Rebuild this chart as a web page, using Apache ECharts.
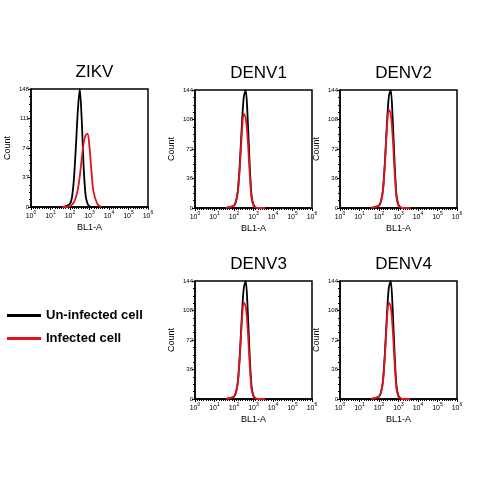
<!DOCTYPE html><html><head><meta charset="utf-8"><script src="https://cdn.jsdelivr.net/npm/echarts@6/dist/echarts.min.js"></script></head><body style="margin:0;background:#fff"><div id="c" style="width:480px;height:480px"></div><script>
const panels=['ZIKV','DENV1','DENV2','DENV3','DENV4'];
const xs=[1.6,1.8,2.0,2.1,2.2,2.3,2.4,2.5,2.6,2.7,2.8,2.9,3.0,3.1,3.2,3.4,3.6];
const uninfected=[
[0,1,4,12,35,75,120,148,110,50,15,4,1,0,0,0,0],
[0,1,3,8,22,55,100,135,144,110,55,15,4,1,0,0,0],
[0,1,3,8,22,55,100,135,144,110,55,15,4,1,0,0,0],
[0,1,3,8,22,55,100,135,144,110,55,15,4,1,0,0,0],
[0,1,3,8,22,55,100,135,144,110,55,15,4,1,0,0,0]];
const infected=[
[0,0,1,3,6,12,22,38,60,80,90,92,75,45,20,4,0],
[0,1,3,8,20,50,90,115,110,85,45,12,3,1,0,0,0],
[0,1,3,8,20,52,95,120,115,88,45,12,3,1,0,0,0],
[0,1,3,8,20,52,93,118,113,86,45,12,3,1,0,0,0],
[0,1,3,8,20,52,93,118,113,86,45,12,3,1,0,0,0]];
const yMax=[148,144,144,144,144];
const boxes=[[31,89],[195,90],[340,90],[195,281],[340,281]];
const W=117,H=118;
const grid=[],xAxis=[],yAxis=[],series=[],title=[];
boxes.forEach((b,i)=>{
grid.push({left:b[0],top:b[1],width:W,height:H,show:true,borderColor:'#000',borderWidth:1.5});
title.push({text:panels[i],left:b[0]+W/2,top:b[1]-30,textAlign:'center',textStyle:{fontFamily:'Liberation Sans',fontSize:17,fontWeight:'normal',color:'#000'}});
xAxis.push({gridIndex:i,type:'value',min:0,max:6,interval:1,name:'BL1-A',nameLocation:'middle',nameGap:16,nameTextStyle:{fontSize:9,color:'#000',fontFamily:'Liberation Sans'},
axisLine:{lineStyle:{color:'#000',width:1.5}},axisTick:{length:3,lineStyle:{color:'#000'}},minorTick:{show:true,splitNumber:9,length:2,lineStyle:{color:'#000'}},splitLine:{show:false},
axisLabel:{color:'#000',margin:3,formatter:v=>'{b|10}{s|'+v+'}',rich:{b:{fontSize:7,color:'#000',verticalAlign:'bottom'},s:{fontSize:5,color:'#000',verticalAlign:'top',padding:[0,0,5,0]}}}});
yAxis.push({gridIndex:i,type:'value',min:0,max:yMax[i],interval:yMax[i]/4,name:'Count',nameLocation:'middle',nameGap:19,nameTextStyle:{fontSize:9,color:'#000',fontFamily:'Liberation Sans'},
axisLine:{show:true,lineStyle:{color:'#000',width:1.5}},axisTick:{length:3,lineStyle:{color:'#000'}},minorTick:{show:true,splitNumber:4,length:2,lineStyle:{color:'#000'}},splitLine:{show:false},
axisLabel:{fontSize:6,color:'#000',margin:2}});
series.push({name:'Un-infected cell',type:'line',xAxisIndex:i,yAxisIndex:i,showSymbol:false,smooth:0.3,lineStyle:{color:'#000',width:1.8},itemStyle:{color:'#000'},data:xs.map((x,k)=>[x,uninfected[i][k]])});
series.push({name:'Infected cell',type:'line',xAxisIndex:i,yAxisIndex:i,showSymbol:false,smooth:0.3,lineStyle:{color:'#e0141e',width:1.8},itemStyle:{color:'#e0141e'},data:xs.map((x,k)=>[x,infected[i][k]])});
});
const ch=echarts.init(document.getElementById('c'));
ch.setOption({animation:false,title,grid,xAxis,yAxis,series,
legend:{orient:'vertical',left:2,top:304,itemGap:10,itemWidth:34,icon:'rect',itemHeight:3,data:['Un-infected cell','Infected cell'],textStyle:{fontSize:13,fontWeight:'bold',color:'#000',fontFamily:'Liberation Sans'}}});
</script></body></html>
